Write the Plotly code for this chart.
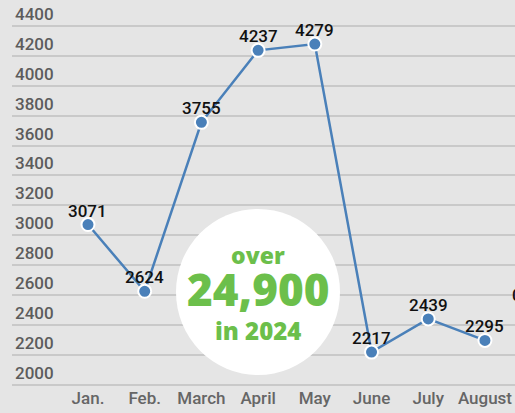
import plotly.graph_objects as go

months = ["Jan.", "Feb.", "March", "April", "May", "June", "July", "August"]
values = [3071, 2624, 3755, 4237, 4279, 2217, 2439, 2295]
y_ticks = [2000, 2200, 2400, 2600, 2800, 3000, 3200, 3400, 3600, 3800, 4000, 4200, 4400]
badge_lines = ["over", "24,900", "in 2024"]

W, H = 515, 413
ML, MR, MT, MB = 12, 0, 0, 27
PW, PH = W - ML - MR, H - MT - MB

def px_x(px):
    return (px - ML) / PW

def px_y(py):
    return 1 - (py - MT) / PH

LINE = "#4a80b9"
GREEN = "#6cbf4b"

fig = go.Figure()
fig.add_trace(go.Scatter(
    x=months, y=values, mode="lines+markers",
    line=dict(color=LINE, width=2.5),
    marker=dict(size=13, color=LINE, line=dict(color="white", width=2)),
    hoverinfo="skip",
))

annotations = []
for m, v in zip(months, values):
    annotations.append(dict(
        x=m, y=v, xref="x", yref="y", text=str(v), showarrow=False,
        yshift=14, font=dict(family="Roboto", size=17, color="#111111", weight=500),
    ))

# badge circle + text
shapes = [dict(type="circle", xref="paper", yref="paper",
               x0=px_x(176), x1=px_x(340), y0=px_y(375), y1=px_y(209),
               fillcolor="white", line=dict(width=0), layer="above")]
badge_pos = [(255, 23), (289, 44), (330, 24)]
for txt, (py, fs) in zip(badge_lines, badge_pos):
    annotations.append(dict(
        x=px_x(258), y=px_y(py), xref="paper", yref="paper", text=txt,
        showarrow=False, xanchor="center", yanchor="middle",
        font=dict(family="Open Sans", size=fs, color=GREEN, weight=800),
    ))

# clipped label at the right edge
annotations.append(dict(
    x=px_x(510), y=px_y(295), xref="paper", yref="paper", text="0",
    showarrow=False, xanchor="left", yanchor="middle",
    font=dict(family="Roboto", size=17, color="#111111", weight=500),
))

fig.update_layout(
    width=W, height=H,
    margin=dict(l=ML, r=MR, t=MT, b=MB, pad=0),
    paper_bgcolor="#e5e5e5", plot_bgcolor="#e5e5e5",
    showlegend=False,
    annotations=annotations, shapes=shapes,
    xaxis=dict(type="category", range=[-1.34, 7.53], showgrid=False, zeroline=False,
               showline=False, ticks="", fixedrange=True,
               tickfont=dict(family="Roboto", size=17, color="#666666", weight=500)),
    yaxis=dict(range=[1990, 4574], tickvals=y_ticks, ticktext=[str(t) for t in y_ticks],
               showgrid=True, gridcolor="#c9c9c9", gridwidth=2, zeroline=False,
               showline=False, ticks="", ticklabelposition="inside top", fixedrange=True,
               tickfont=dict(family="Roboto", size=17, color="#5c5c5c", weight=500)),
)

fig.write_html(
    "out.html",
    config={"displayModeBar": False},
    post_script="document.body.style.margin='0';document.body.style.overflow='hidden';",
)
